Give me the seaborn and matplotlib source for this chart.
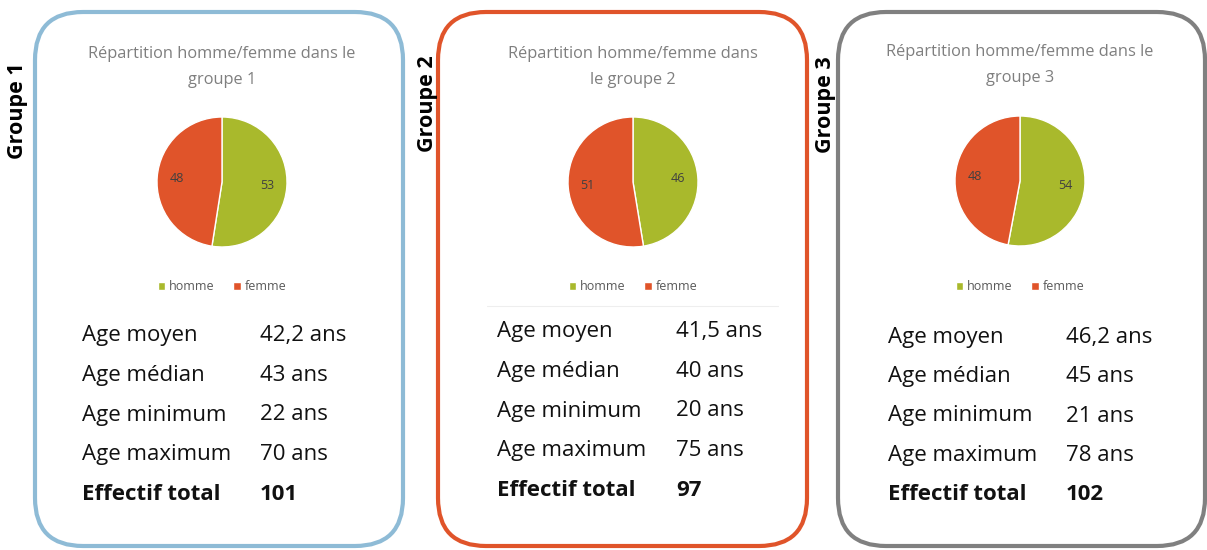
import matplotlib
matplotlib.use('Agg')
import matplotlib.pyplot as plt
from matplotlib.patches import FancyBboxPatch
import seaborn as sns

# donnees
groupes = ['Groupe 1', 'Groupe 2', 'Groupe 3']
titres = ['Répartition homme/femme dans le\ngroupe 1',
          'Répartition homme/femme dans\nle groupe 2',
          'Répartition homme/femme dans le\ngroupe 3']
sexes = ['homme', 'femme']
hommes = [53, 46, 54]
femmes = [48, 51, 48]
stat_labels = ['Age moyen', 'Age médian', 'Age minimum', 'Age maximum', 'Effectif total']
age_moyen = [42.2, 41.5, 46.2]
age_median = [43, 40, 45]
age_min = [22, 20, 21]
age_max = [70, 75, 78]
effectif = [101, 97, 102]

sns.set_theme(style='white')
plt.rcParams['font.family'] = ['Open Sans', 'DejaVu Sans']

W, H = 1207, 550
fig = plt.figure(figsize=(W / 100, H / 100), dpi=100)
bg = fig.add_axes([0, 0, 1, 1])
bg.set_xlim(0, W)
bg.set_ylim(H, 0)
bg.axis('off')

pal = sns.color_palette(['#A9B92C', '#E0542A'])
box_colors = ['#8EBBD6', '#E0542A', '#808080']

# positions en pixels
layout = [
    dict(x0=35, x1=403, gx=18, gy=111, cx=222, cy=182, ty=67, sx=82, vx=260, sy=336),
    dict(x0=438, x1=807, gx=427, gy=104, cx=633, cy=182, ty=67, sx=497, vx=676, sy=332),
    dict(x0=838, x1=1205, gx=825, gy=105, cx=1020, cy=181, ty=65, sx=888, vx=1066, sy=337),
]
r = 65
row_gap = 39.5

for i, lay in enumerate(layout):
    box = FancyBboxPatch((lay['x0'], 12), lay['x1'] - lay['x0'], 534,
                         boxstyle='round,pad=0,rounding_size=48',
                         fill=False, edgecolor=box_colors[i], linewidth=3)
    bg.add_patch(box)
    bg.text(lay['gx'], lay['gy'], groupes[i], rotation=90, fontsize=15.5,
            fontweight='bold', ha='center', va='center', color='black')
    bg.text(lay['cx'], lay['ty'], titres[i], fontsize=11.8, color='#7F7F7F',
            ha='center', va='center', linespacing=1.75)

    pax = fig.add_axes([(lay['cx'] - r) / W, 1 - (lay['cy'] + r) / H, 2 * r / W, 2 * r / H])
    vals = [hommes[i], femmes[i]]
    wedges, texts = pax.pie(vals, colors=pal, startangle=90, counterclock=False,
                            labels=[str(v) for v in vals], labeldistance=0.7,
                            wedgeprops=dict(edgecolor='white', linewidth=1),
                            textprops=dict(color='#404040', fontsize=9,
                                           ha='center', va='center'))
    pax.set_xlim(-1, 1)
    pax.set_ylim(-1, 1)
    pax.legend(wedges, sexes, loc='center', bbox_to_anchor=(lay['cx'] / W, 1 - 287 / H),
               bbox_transform=fig.transFigure, ncol=2, frameon=False, fontsize=9,
               handlelength=0.6, handleheight=0.6, handletextpad=0.3,
               columnspacing=1.5, labelcolor='#595959')

    if i == 1:
        bg.plot([487, 778], [306, 306], color='#EEEEEE', linewidth=0.8)

    values = [('%.1f' % age_moyen[i]).replace('.', ',') + ' ans',
              '%d ans' % age_median[i],
              '%d ans' % age_min[i],
              '%d ans' % age_max[i],
              '%d' % effectif[i]]
    for k, (lab, val) in enumerate(zip(stat_labels, values)):
        y = lay['sy'] + k * row_gap
        weight = 'bold' if k == 4 else 'normal'
        bg.text(lay['sx'], y, lab, fontsize=16, fontweight=weight, color='#111111',
                ha='left', va='center')
        bg.text(lay['vx'], y, val, fontsize=16, fontweight=weight, color='#111111',
                ha='left', va='center')

fig.savefig('out.png', dpi=100, facecolor='white')
